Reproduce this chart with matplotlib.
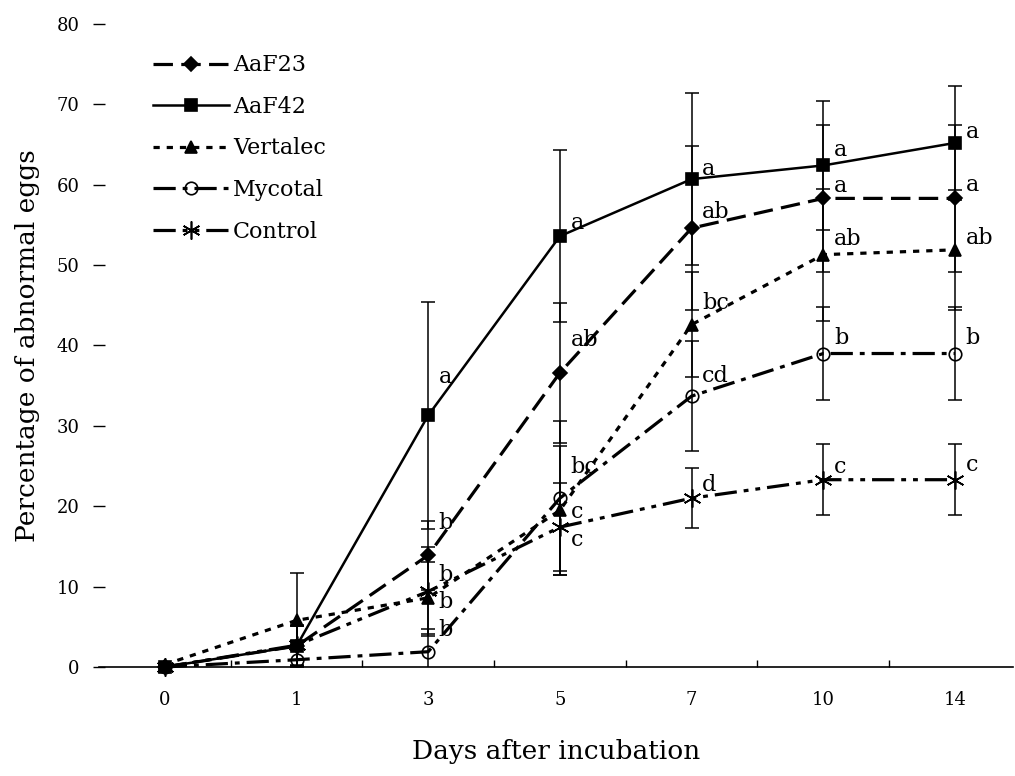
import matplotlib
matplotlib.use("Agg")
import matplotlib.pyplot as plt

plt.rcParams['font.family'] = ['DejaVu Serif']
plt.rcParams['lines.scale_dashes'] = False

# days after incubation (categorical axis)
days = ['0', '1', '3', '5', '7', '10', '14']

# percentage of abnormal eggs per treatment
aaf23 = [0, 2.6, 13.9, 36.6, 54.6, 58.3, 58.3]
aaf42 = [0, 2.6, 31.3, 53.6, 60.7, 62.4, 65.2]
vertalec = [0.3, 5.8, 8.6, 19.5, 42.6, 51.3, 51.9]
mycotal = [0, 0.9, 1.9, 21.0, 33.7, 39.0, 39.0]
control = [0, 2.7, 9.4, 17.4, 21.0, 23.3, 23.3]

# error bars (+/-)
aaf23_err = [0, 2.5, 4.3, 8.7, 10.2, 9.1, 9.1]
aaf42_err = [0, 2.5, 14.1, 10.7, 10.7, 8.0, 7.1]
vertalec_err = [0, 5.9, 4.5, 8.0, 6.5, 8.2, 7.5]
mycotal_err = [0, 1.8, 2.8, 9.6, 6.8, 5.8, 5.8]
control_err = [0, 2.5, 5.5, 5.5, 3.7, 4.4, 4.4]

# significance letters and where they sit (y value)
aaf23_lab = ['', '', 'b', 'ab', 'ab', 'a', 'a']
aaf23_lab_y = [0, 0, 17.9, 40.7, 56.6, 59.8, 60.0]
aaf42_lab = ['', '', 'a', 'a', 'a', 'a', 'a']
aaf42_lab_y = [0, 0, 36.1, 55.3, 62.0, 64.3, 66.5]
vertalec_lab = ['', '', 'b', 'c', 'bc', 'ab', 'ab']
vertalec_lab_y = [0, 0, 8.1, 19.3, 45.3, 53.2, 53.4]
mycotal_lab = ['', '', 'b', 'bc', 'cd', 'b', 'b']
mycotal_lab_y = [0, 0, 4.6, 24.9, 36.2, 40.9, 40.9]
control_lab = ['', '', 'b', 'c', 'd', 'c', 'c']
control_lab_y = [0, 0, 11.4, 15.8, 22.6, 24.9, 25.1]

x = list(range(len(days)))

fig = plt.figure(figsize=(10.15, 7.76), dpi=100)
ax = fig.add_axes([0.0975, 0.1405, 0.9005, 0.8286])

series = [
    ('AaF23', aaf23, aaf23_err, dict(marker='D', ms=7, mfc='black', dashes=(14, 6))),
    ('AaF42', aaf42, aaf42_err, dict(marker='s', ms=8, mfc='black', linestyle='-')),
    ('Vertalec', vertalec, vertalec_err, dict(marker='^', ms=8, mfc='black', dashes=(4.5, 5))),
    ('Mycotal', mycotal, mycotal_err, dict(marker='o', ms=9, mfc='none', dashes=(16, 5, 3.5, 5))),
    ('Control', control, control_err, dict(marker=(6, 2, 0), ms=13, mfc='black', dashes=(16, 5, 3.5, 5, 3.5, 5))),
]

for name, vals, err, style in series:
    ax.errorbar(x, vals, yerr=err, fmt='none', ecolor='black', elinewidth=1.1,
                capsize=5, capthick=1.1, zorder=2)
    lw = 1.8 if name == 'AaF42' else 2.3
    ax.plot(x, vals, color='black', lw=lw, mec='black', mew=1.2,
            label=name, clip_on=False, zorder=3, **style)

for labs, ys in [(aaf23_lab, aaf23_lab_y), (aaf42_lab, aaf42_lab_y),
                 (vertalec_lab, vertalec_lab_y), (mycotal_lab, mycotal_lab_y),
                 (control_lab, control_lab_y)]:
    for i in range(len(labs)):
        if labs[i]:
            ax.text(x[i] + 0.08, ys[i], labs[i], fontsize=16, ha='left', va='center')

ax.set_xlim(-0.5, 6.44)
ax.set_ylim(0, 80)
ax.set_xticks(x)
ax.set_xticklabels(days)
ax.set_xticks([0.5, 1.5, 2.5, 3.5, 4.5, 5.5], minor=True)
ax.set_yticks(range(0, 81, 10))
ax.tick_params(axis='x', which='major', length=0, pad=17, labelsize=13)
ax.tick_params(axis='x', which='minor', length=5, direction='in', width=1)
ax.tick_params(axis='y', which='major', length=8, direction='inout', width=1,
               pad=10, labelsize=13)

ax.spines['top'].set_visible(False)
ax.spines['right'].set_visible(False)
ax.spines['left'].set_visible(False)
ax.spines['bottom'].set_linewidth(1.2)

ax.set_ylabel('Percentage of abnormal eggs', fontsize=19, labelpad=12)
ax.set_xlabel('Days after incubation', fontsize=19, labelpad=22)

ax.legend(loc='upper left', bbox_to_anchor=(0.047, 0.97), frameon=False,
          fontsize=16, handlelength=3.4, handletextpad=0.2, labelspacing=0.88,
          borderpad=0)

fig.savefig('out.png', dpi=100)
